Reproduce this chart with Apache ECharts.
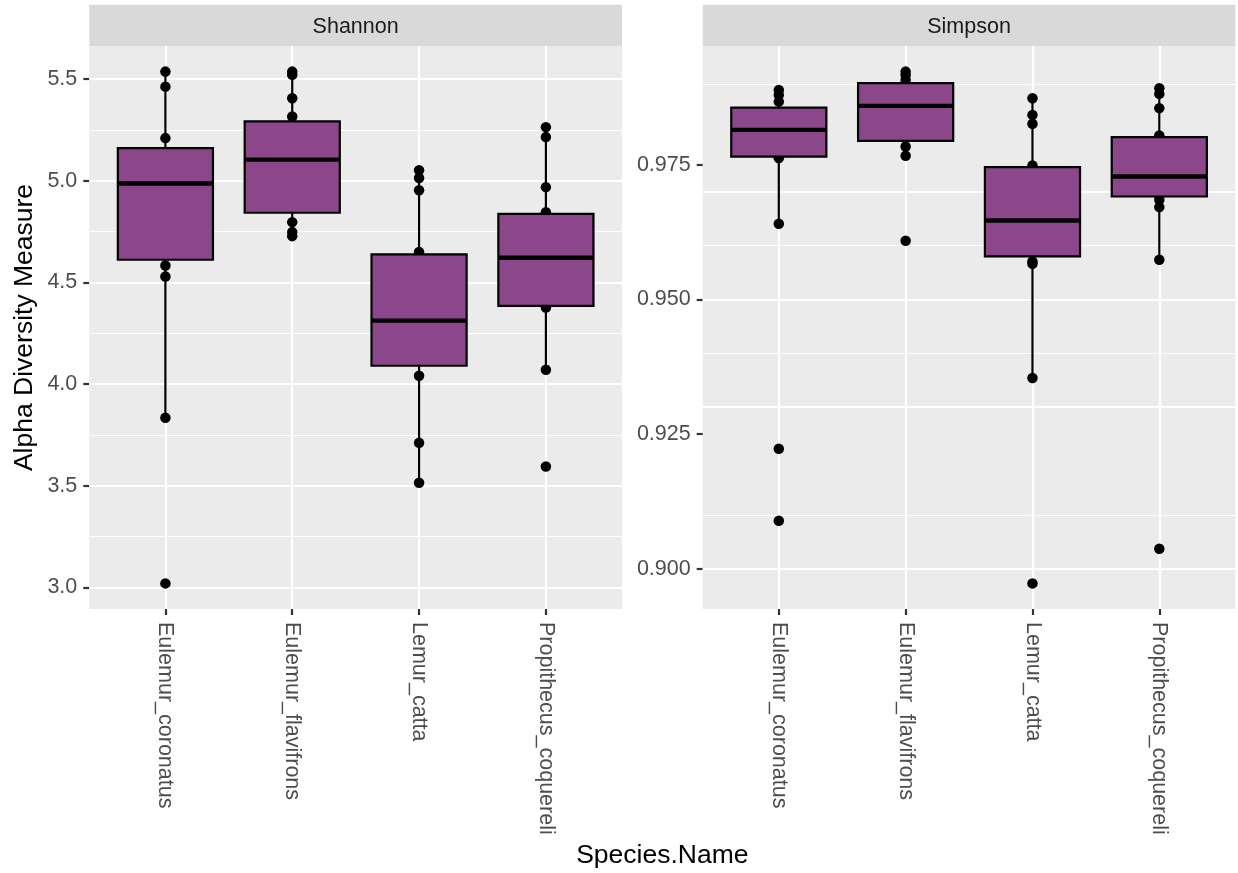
<!DOCTYPE html>
<html>
<head>
<meta charset="utf-8">
<script src="https://cdn.jsdelivr.net/npm/echarts@6/dist/echarts.min.js"></script>
<style>
  html, body { margin: 0; padding: 0; background: #ffffff; }
  #chart { width: 1238px; height: 873px; }
</style>
</head>
<body>
<div id="chart"></div>
<script>
// Species on the x axis (positions 1..4)
const species = ['Eulemur_coronatus', 'Eulemur_flavifrons', 'Lemur_catta', 'Propithecus_coquereli'];

// Shannon: per-sample values shown as dots, one list per species
const shannonCoronatus   = [5.536, 5.462, 5.209, 4.583, 4.529, 3.834, 3.020];
const shannonFlavifrons  = [5.536, 5.520, 5.405, 5.315, 4.796, 4.747, 4.727];
const shannonCatta       = [5.051, 5.013, 4.953, 4.649, 4.041, 3.711, 3.515];
const shannonCoquereli   = [5.263, 5.214, 4.968, 4.845, 4.376, 4.070, 3.595];

// Shannon: [lower whisker, Q1, median, Q3, upper whisker]
const shannonBoxCoronatus  = [3.834, 4.611, 4.986, 5.160, 5.536];
const shannonBoxFlavifrons = [4.727, 4.842, 5.103, 5.291, 5.536];
const shannonBoxCatta      = [3.515, 4.090, 4.312, 4.637, 5.051];
const shannonBoxCoquereli  = [4.070, 4.384, 4.621, 4.837, 5.263];

// Simpson: per-sample values shown as dots
const simpsonCoronatus   = [0.98891, 0.98798, 0.98674, 0.97624, 0.96406, 0.92227, 0.90891];
const simpsonFlavifrons  = [0.99231, 0.99169, 0.99077, 0.97839, 0.97667, 0.96090];
const simpsonCatta       = [0.98737, 0.98427, 0.98261, 0.97487, 0.95706, 0.95664, 0.93543, 0.89728];
const simpsonCoquereli   = [0.98923, 0.98817, 0.98552, 0.98043, 0.96851, 0.96715, 0.95738, 0.90371];

// Simpson: [lower whisker, Q1, median, Q3, upper whisker]
const simpsonBoxCoronatus  = [0.96406, 0.97654, 0.98149, 0.98563, 0.98891];
const simpsonBoxFlavifrons = [0.97667, 0.97945, 0.98594, 0.99015, 0.99231];
const simpsonBoxCatta      = [0.93543, 0.95799, 0.96467, 0.97457, 0.98737];
const simpsonBoxCoquereli  = [0.95738, 0.96912, 0.97283, 0.98014, 0.98923];

// Axis breaks
const shannonTicks = [3.0, 3.5, 4.0, 4.5, 5.0, 5.5];
const shannonMinor = [3.25, 3.75, 4.25, 4.75, 5.25];
const simpsonTicks = [0.900, 0.925, 0.950, 0.975];
const simpsonMinor = [0.9125, 0.9375, 0.9625, 0.9875];
const speciesTicks = [1, 2, 3, 4];

const shannonPoints = [shannonCoronatus, shannonFlavifrons, shannonCatta, shannonCoquereli];
const shannonBoxes = [shannonBoxCoronatus, shannonBoxFlavifrons, shannonBoxCatta, shannonBoxCoquereli];
const simpsonPoints = [simpsonCoronatus, simpsonFlavifrons, simpsonCatta, simpsonCoquereli];
const simpsonBoxes = [simpsonBoxCoronatus, simpsonBoxFlavifrons, simpsonBoxCatta, simpsonBoxCoquereli];

const FONT = '"Liberation Sans", Arial, Helvetica, sans-serif';
const BOX_FILL = '#8B4789';

// y range = data range padded by 5% on both sides
function paddedRange(pointLists, boxes) {
  const all = [].concat(...pointLists, ...boxes);
  const lo = Math.min(...all), hi = Math.max(...all);
  const pad = (hi - lo) * 0.05;
  return [lo - pad, hi + pad];
}

function toScatter(lists) {
  const out = [];
  lists.forEach((vals, i) => vals.forEach(v => out.push([i + 1, v])));
  return out;
}

function toBoxData(boxes) {
  return boxes.map((b, i) => [i + 1].concat(b));
}

function renderBox(params, api) {
  const x = api.value(0);
  const pLo = api.coord([x, api.value(1)]);
  const pQ1 = api.coord([x, api.value(2)]);
  const pMed = api.coord([x, api.value(3)]);
  const pQ3 = api.coord([x, api.value(4)]);
  const pHi = api.coord([x, api.value(5)]);
  const half = api.size([0.75, 0])[0] / 2;
  const cx = pMed[0];
  const edge = { stroke: '#000000', lineWidth: 2.2 };
  return {
    type: 'group',
    children: [
      { type: 'line', shape: { x1: cx, y1: pHi[1], x2: cx, y2: pQ3[1] }, style: edge },
      { type: 'line', shape: { x1: cx, y1: pQ1[1], x2: cx, y2: pLo[1] }, style: edge },
      { type: 'rect', shape: { x: cx - half, y: pQ3[1], width: 2 * half, height: pQ1[1] - pQ3[1] },
        style: { fill: BOX_FILL, stroke: '#000000', lineWidth: 2.2 } },
      { type: 'line', shape: { x1: cx - half, y1: pMed[1], x2: cx + half, y2: pMed[1] },
        style: { stroke: '#000000', lineWidth: 4.4 } }
    ]
  };
}

function gridLines(major, minor) {
  const white = w => ({ color: '#ffffff', width: w, type: 'solid' });
  return {
    silent: true,
    symbol: 'none',
    animation: false,
    z: 1,
    label: { show: false },
    emphasis: { disabled: true },
    data: [].concat(
      minor.map(v => ({ yAxis: v, lineStyle: white(1.1) })),
      major.map(v => ({ yAxis: v, lineStyle: white(2.2) })),
      speciesTicks.map(v => ({ xAxis: v, lineStyle: white(2.2) }))
    )
  };
}

const shannonRange = paddedRange(shannonPoints, shannonBoxes);
const simpsonRange = paddedRange(simpsonPoints, simpsonBoxes);

const panelTop = 46, panelHeight = 563, panelWidth = 532.7;
const panelLefts = [89.3, 702.7];

function xAxisFor(gridIndex) {
  return {
    type: 'value',
    gridIndex: gridIndex,
    min: 0.4,
    max: 4.6,
    axisLine: { show: false },
    splitLine: { show: false },
    axisTick: { show: true, customValues: speciesTicks, length: 6,
                lineStyle: { color: '#333333', width: 2.2 } },
    axisLabel: {
      customValues: speciesTicks,
      formatter: v => species[Math.round(v) - 1],
      rotate: -90,
      margin: 13,
      color: '#4d4d4d',
      fontSize: 21.5,
      fontFamily: FONT
    }
  };
}

function yAxisFor(gridIndex, range, ticks, digits) {
  return {
    type: 'value',
    gridIndex: gridIndex,
    min: range[0],
    max: range[1],
    axisLine: { show: false },
    splitLine: { show: false },
    axisTick: { show: true, customValues: ticks, length: 6,
                lineStyle: { color: '#333333', width: 2.2 } },
    axisLabel: {
      customValues: ticks,
      formatter: v => v.toFixed(digits),
      margin: 12,
      color: '#4d4d4d',
      fontSize: 21.5,
      fontFamily: FONT
    }
  };
}

function strip(left, label) {
  return [
    { type: 'rect', silent: true, z: 10,
      shape: { x: left, y: 4.7, width: panelWidth, height: panelTop - 4.7 },
      style: { fill: '#d9d9d9' } },
    { type: 'text', silent: true, z: 11,
      x: left + panelWidth / 2, y: (4.7 + panelTop) / 2 + 2,
      style: { text: label, fill: '#1a1a1a', fontSize: 21.5, fontFamily: FONT,
               align: 'center', verticalAlign: 'middle' } }
  ];
}

const chart = echarts.init(document.getElementById('chart'), null, { renderer: 'canvas' });

chart.setOption({
  animation: false,
  backgroundColor: '#ffffff',
  grid: panelLefts.map(l => ({
    left: l, top: panelTop, width: panelWidth, height: panelHeight,
    show: true, backgroundColor: '#ebebeb', borderWidth: 0, containLabel: false
  })),
  xAxis: [xAxisFor(0), xAxisFor(1)],
  yAxis: [
    yAxisFor(0, shannonRange, shannonTicks, 1),
    yAxisFor(1, simpsonRange, simpsonTicks, 3)
  ],
  series: [
    {
      type: 'scatter', xAxisIndex: 0, yAxisIndex: 0, z: 2,
      symbol: 'circle', symbolSize: 10.5, itemStyle: { color: '#000000', opacity: 1 },
      data: toScatter(shannonPoints),
      markLine: gridLines(shannonTicks, shannonMinor)
    },
    {
      type: 'custom', xAxisIndex: 0, yAxisIndex: 0, z: 3,
      renderItem: renderBox,
      encode: { x: 0, y: [1, 2, 3, 4, 5] },
      data: toBoxData(shannonBoxes)
    },
    {
      type: 'scatter', xAxisIndex: 1, yAxisIndex: 1, z: 2,
      symbol: 'circle', symbolSize: 10.5, itemStyle: { color: '#000000', opacity: 1 },
      data: toScatter(simpsonPoints),
      markLine: gridLines(simpsonTicks, simpsonMinor)
    },
    {
      type: 'custom', xAxisIndex: 1, yAxisIndex: 1, z: 3,
      renderItem: renderBox,
      encode: { x: 0, y: [1, 2, 3, 4, 5] },
      data: toBoxData(simpsonBoxes)
    }
  ],
  graphic: [].concat(
    strip(panelLefts[0], 'Shannon'),
    strip(panelLefts[1], 'Simpson'),
    [
      { type: 'text', silent: true,
        x: (panelLefts[0] + panelLefts[1] + panelWidth) / 2, y: 856,
        style: { text: 'Species.Name', fill: '#000000', fontSize: 26.5, fontFamily: FONT,
                 align: 'center', verticalAlign: 'middle' } },
      { type: 'text', silent: true,
        x: 25, y: panelTop + panelHeight / 2, rotation: Math.PI / 2,
        style: { text: 'Alpha Diversity Measure', fill: '#000000', fontSize: 26.5, fontFamily: FONT,
                 align: 'center', verticalAlign: 'middle' } }
    ]
  )
});
</script>
</body>
</html>
